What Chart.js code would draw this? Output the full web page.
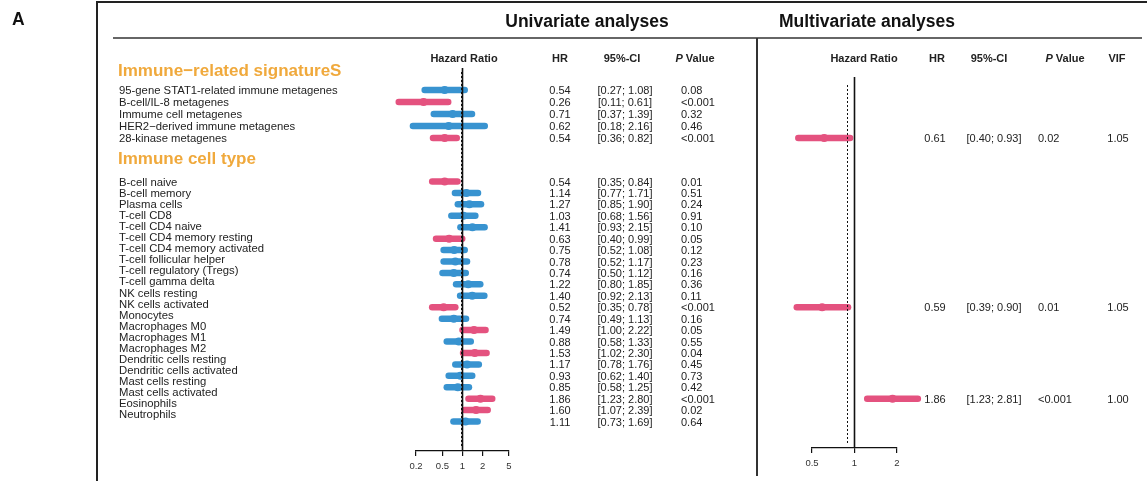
<!DOCTYPE html>
<html>
<head>
<meta charset="utf-8">
<script src="https://cdn.jsdelivr.net/npm/chart.js@4.4.0/dist/chart.umd.min.js"></script>
<style>
  html, body { margin: 0; padding: 0; background: #fff; }
  #fig { position: relative; width: 1147px; height: 481px; overflow: hidden;
         font-family: "Liberation Sans", Arial, sans-serif; color: #222; }
  #fig canvas { position: absolute; top: 0; }
  .t { position: absolute; white-space: nowrap; line-height: 14px; font-size: 11px; }
  .lab { font-size: 11.3px; }
  .b { font-weight: bold; }
  .hd { font-weight: bold; font-size: 17px; color: #f0a93c; line-height: 20px; }
  .ttl { font-weight: bold; font-size: 17.5px; line-height: 20px; color: #111; }
  .rule { position: absolute; }
</style>
</head>
<body>
<div id="fig">
  <div class="rule" style="left:96px;top:1px;width:1051px;height:2px;background:#222"></div>
  <div class="rule" style="left:96px;top:1px;width:2px;height:480px;background:#222"></div>
  <div class="rule" style="left:113px;top:37px;width:1029px;height:2px;background:#666"></div>
  <div class="rule" style="left:756px;top:38px;width:2px;height:438px;background:#333"></div>
  <canvas id="uni" width="757" height="481" style="left:0"></canvas>
  <canvas id="multi" width="390" height="481" style="left:757px"></canvas>
</div>
<script>
// univariate: immune-related signatures
const sigLabels = ['95-gene STAT1-related immune metagenes', 'B-cell/IL-8  metagenes', 'Immume cell metagenes',
  'HER2\u2212derived immune metagenes', '28-kinase metagenes'];
const sigHR = [0.54, 0.26, 0.71, 0.62, 0.54];
const sigLo = [0.27, 0.11, 0.37, 0.18, 0.36];
const sigHi = [1.08, 0.61, 1.39, 2.16, 0.82];
const sigP = ['0.08', '<0.001', '0.32', '0.46', '<0.001'];

// univariate: immune cell types
const cellLabels = ['B-cell naive', 'B-cell memory', 'Plasma cells', 'T-cell CD8', 'T-cell CD4 naive',
  'T-cell CD4 memory resting', 'T-cell CD4 memory activated', 'T-cell follicular helper', 'T-cell regulatory (Tregs)',
  'T-cell gamma delta', 'NK cells resting', 'NK cells activated', 'Monocytes', 'Macrophages M0', 'Macrophages M1',
  'Macrophages M2', 'Dendritic cells resting', 'Dendritic cells activated', 'Mast cells resting',
  'Mast cells activated', 'Eosinophils', 'Neutrophils'];
const cellHR = [0.54, 1.14, 1.27, 1.03, 1.41, 0.63, 0.75, 0.78, 0.74, 1.22, 1.40, 0.52, 0.74, 1.49, 0.88, 1.53,
  1.17, 0.93, 0.85, 1.86, 1.60, 1.11];
const cellLo = [0.35, 0.77, 0.85, 0.68, 0.93, 0.40, 0.52, 0.52, 0.50, 0.80, 0.92, 0.35, 0.49, 1.00, 0.58, 1.02,
  0.78, 0.62, 0.58, 1.23, 1.07, 0.73];
const cellHi = [0.84, 1.71, 1.90, 1.56, 2.15, 0.99, 1.08, 1.17, 1.12, 1.85, 2.13, 0.78, 1.13, 2.22, 1.33, 2.30,
  1.76, 1.40, 1.25, 2.80, 2.39, 1.69];
const cellP = ['0.01', '0.51', '0.24', '0.91', '0.10', '0.05', '0.12', '0.23', '0.16', '0.36', '0.11', '<0.001',
  '0.16', '0.05', '0.55', '0.04', '0.45', '0.73', '0.42', '<0.001', '0.02', '0.64'];

// multivariate (rows refer to the univariate rows above)
const multiSection = ['sig', 'cell', 'cell'];
const multiRow = [4, 11, 19];
const multiHR = [0.61, 0.59, 1.86];
const multiLo = [0.40, 0.39, 1.23];
const multiHi = [0.93, 0.90, 2.81];
const multiP = ['0.02', '0.01', '<0.001'];
const multiVIF = ['1.05', '1.05', '1.00'];

const uniTicks = [0.2, 0.5, 1, 2, 5];
const multiTicks = [0.5, 1, 2];
const uniRef = 0.96;
const multiRef = 0.88;

const PINK = '#e4527f';
const BLUE = '#3893d0';
const fig = document.getElementById('fig');

function rowRange(top, bottom, firstPx, stepPx) {
  const min = -(firstPx - top) / stepPx;
  return { min: min, max: min + (bottom - top) / stepPx };
}

function rowDataset(lo, hr, hi, row, yAxisID) {
  const col = (lo >= 1 || hi < 1) ? PINK : BLUE;
  return {
    data: [{ x: lo, y: row }, { x: hr, y: row }, { x: hi, y: row }],
    yAxisID: yAxisID,
    showLine: true,
    borderColor: col,
    backgroundColor: col,
    pointBackgroundColor: col,
    borderWidth: 6.5,
    borderCapStyle: 'round',
    pointBorderWidth: 0,
    pointRadius: (c) => (c.dataIndex === 1 ? 4 : 0),
    clip: false
  };
}

const refLines = {
  id: 'refLines',
  afterDatasetsDraw(chart, args, o) {
    const ctx = chart.ctx;
    const x = chart.scales.x;
    const bottom = chart.chartArea.bottom;
    ctx.save();
    ctx.strokeStyle = '#111';
    ctx.lineWidth = 1;
    ctx.setLineDash([2, 2]);
    const xd = Math.round(x.getPixelForValue(o.dashed)) + 0.5;
    ctx.beginPath(); ctx.moveTo(xd, o.dashTop); ctx.lineTo(xd, bottom - 3); ctx.stroke();
    ctx.setLineDash([]);
    ctx.lineWidth = 1.6;
    const xs = x.getPixelForValue(o.solid);
    ctx.beginPath(); ctx.moveTo(xs, o.top); ctx.lineTo(xs, bottom); ctx.stroke();
    ctx.restore();
  }
};

function xAxis(min, max, ticks, height) {
  return {
    type: 'logarithmic', min: min, max: max,
    afterBuildTicks: (s) => { s.ticks = ticks.map((v) => ({ value: v })); },
    afterFit: (s) => { s.height = height; },
    ticks: { callback: (v) => String(v), autoSkip: false, maxRotation: 0, padding: 5,
             color: '#333', font: { size: 9.5, family: 'Liberation Sans' } },
    grid: { drawOnChartArea: false, drawTicks: true, tickLength: 5, color: '#111', lineWidth: 1.2 },
    border: { display: true, color: '#111', width: 1.2 }
  };
}

function baseOptions(pad, x, bottom, extra) {
  const scales = {
    x: x,
    ys: Object.assign({ type: 'linear', display: false, reverse: true }, rowRange(40, bottom, 90, 12)),
    yc: Object.assign({ type: 'linear', display: false, reverse: true }, rowRange(40, bottom, 181.5, 11.43))
  };
  Object.assign(scales, extra || {});
  return {
    responsive: false, animation: false, events: [], devicePixelRatio: 1,
    layout: { padding: pad },
    plugins: { legend: { display: false }, tooltip: { enabled: false } },
    scales: scales
  };
}

// ---- univariate forest
const uniSets = sigHR.map((hr, i) => rowDataset(sigLo[i], hr, sigHi[i], i, 'ys'))
  .concat(cellHR.map((hr, i) => rowDataset(cellLo[i], hr, cellHi[i], i, 'yc')));
const uniOpts = baseOptions({ left: 416, right: 248, top: 40, bottom: 0 }, xAxis(0.2, 5, uniTicks, 30), 451,
  { yl: Object.assign({ type: 'linear', display: false, reverse: true }, rowRange(40, 451, 182, 11.05)) });
uniOpts.plugins.refLines = { solid: 1, dashed: uniRef, top: 68, dashTop: 72 };
const uni = new Chart(document.getElementById('uni'), {
  type: 'scatter', data: { datasets: uniSets }, options: uniOpts, plugins: [refLines]
});

// ---- multivariate forest
const multiSets = multiHR.map((hr, i) =>
  rowDataset(multiLo[i], hr, multiHi[i], multiRow[i], multiSection[i] === 'sig' ? 'ys' : 'yc'));
const multiOpts = baseOptions({ left: 55, right: 250, top: 40, bottom: 0 }, xAxis(0.5, 2, multiTicks, 33), 448);
multiOpts.plugins.refLines = { solid: 1, dashed: multiRef, top: 77, dashTop: 85 };
const multi = new Chart(document.getElementById('multi'), {
  type: 'scatter', data: { datasets: multiSets }, options: multiOpts, plugins: [refLines]
});

// ---- text
function addText(txt, x, y, cls, center) {
  const d = document.createElement('div');
  d.className = 't ' + (cls || '');
  d.textContent = txt;
  d.style.left = x + 'px';
  d.style.top = y + 'px';
  d.style.transform = center ? 'translate(-50%,-50%)' : 'translateY(-50%)';
  fig.appendChild(d);
  return d;
}
function ci(lo, hi) { return '[' + lo.toFixed(2) + '; ' + hi.toFixed(2) + ']'; }

addText('A', 12, 19, 'ttl');
addText('Univariate analyses', 587, 21, 'ttl', true);
addText('Multivariate analyses', 867, 21, 'ttl', true);
addText('Immune\u2212related signatureS', 118, 71, 'hd');
addText('Immune cell type', 118, 159, 'hd');

[['Hazard Ratio', 464], ['HR', 560], ['95%-CI', 622]].forEach((h) => addText(h[0], h[1], 58, 'b', true));
[['Hazard Ratio', 864], ['HR', 937], ['95%-CI', 989], ['VIF', 1117]].forEach((h) => addText(h[0], h[1], 58, 'b', true));
[695, 1065].forEach((x) => {
  const d = addText('', x, 58, 'b', true);
  d.innerHTML = '<i>P</i> Value';
});

const ys = uni.scales.ys, yc = uni.scales.yc, yl = uni.scales.yl;
sigLabels.forEach((lab, i) => {
  const y = ys.getPixelForValue(i);
  addText(lab, 119, y, 'lab');
  addText(sigHR[i].toFixed(2), 560, y, '', true);
  addText(ci(sigLo[i], sigHi[i]), 625, y, '', true);
  addText(sigP[i], 681, y);
});
cellLabels.forEach((lab, i) => {
  addText(lab, 119, yl.getPixelForValue(i), 'lab');
  const y = yc.getPixelForValue(i);
  addText(cellHR[i].toFixed(2), 560, y, '', true);
  addText(ci(cellLo[i], cellHi[i]), 625, y, '', true);
  addText(cellP[i], 681, y);
});

multiHR.forEach((hr, i) => {
  const sc = multiSection[i] === 'sig' ? multi.scales.ys : multi.scales.yc;
  const y = sc.getPixelForValue(multiRow[i]);
  addText(hr.toFixed(2), 935, y, '', true);
  addText(ci(multiLo[i], multiHi[i]), 994, y, '', true);
  addText(multiP[i], 1038, y);
  addText(multiVIF[i], 1118, y, '', true);
});
</script>
</body>
</html>
